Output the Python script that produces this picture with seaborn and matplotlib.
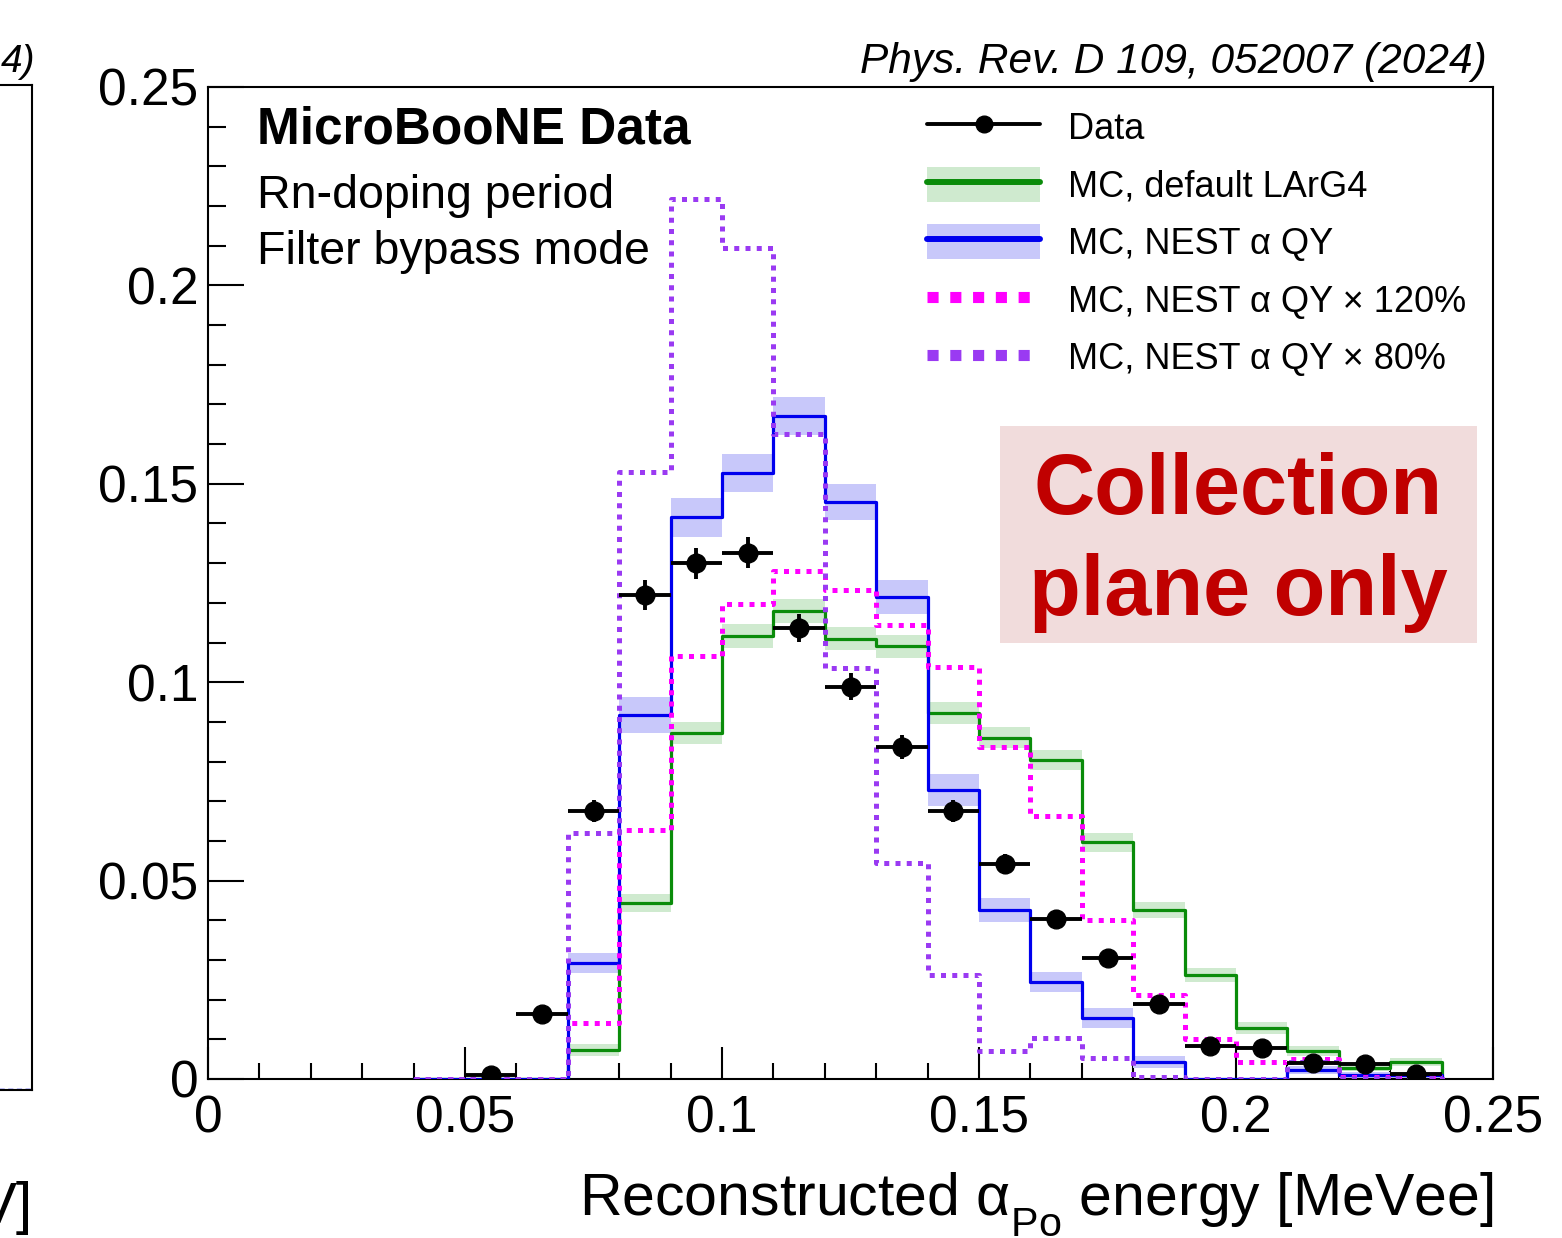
import numpy as np
import matplotlib
matplotlib.use("Agg")
import matplotlib.pyplot as plt
from matplotlib.lines import Line2D
from matplotlib.patches import Patch, Rectangle
from matplotlib.ticker import MultipleLocator
import seaborn as sns

# ---------------------------------------------------------------- data
bin_edges = [0.04, 0.05, 0.06, 0.07, 0.08, 0.09, 0.10, 0.11, 0.12, 0.13, 0.14,
             0.15, 0.16, 0.17, 0.18, 0.19, 0.20, 0.21, 0.22, 0.23, 0.24]
bin_centers = [0.045, 0.055, 0.065, 0.075, 0.085, 0.095, 0.105, 0.115, 0.125, 0.135,
               0.145, 0.155, 0.165, 0.175, 0.185, 0.195, 0.205, 0.215, 0.225, 0.235]

mc_default = [0.0, 0.0, 0.0, 0.0073, 0.0444, 0.0872, 0.1116, 0.1180, 0.1110, 0.1090,
              0.0922, 0.0860, 0.0804, 0.0597, 0.0426, 0.0262, 0.0128, 0.0071, 0.0028, 0.0043]
mc_default_err = [0.0, 0.0, 0.0, 0.0015, 0.0022, 0.0028, 0.0030, 0.0030, 0.0030, 0.0030,
                  0.0027, 0.0026, 0.0025, 0.0024, 0.0021, 0.0018, 0.0015, 0.0012, 0.0009, 0.0009]

mc_nest = [0.0, 0.0, 0.0, 0.0292, 0.0917, 0.1416, 0.1527, 0.1670, 0.1454, 0.1215,
           0.0728, 0.0426, 0.0244, 0.0154, 0.0043, 0.0, 0.0, 0.0023, 0.0010, 0.0010]
mc_nest_err = [0.0, 0.0, 0.0, 0.0026, 0.0045, 0.0049, 0.0048, 0.0048, 0.0045, 0.0042,
               0.0040, 0.0030, 0.0026, 0.0025, 0.0015, 0.0, 0.0, 0.0010, 0.0008, 0.0008]

mc_nest_120 = [0.0, 0.0, 0.0, 0.0140, 0.0627, 0.1066, 0.1197, 0.1280, 0.1232, 0.1144,
               0.1038, 0.0837, 0.0663, 0.0401, 0.0212, 0.0101, 0.0043, 0.0050, 0.0005, 0.0005]
mc_nest_80 = [0.0, 0.0, 0.0, 0.0620, 0.1530, 0.2218, 0.2094, 0.1625, 0.1036, 0.0544,
              0.0262, 0.0070, 0.0103, 0.0053, 0.0005, 0.0, 0.0, 0.0043, 0.0003, 0.0005]

data_x = [0.055, 0.065, 0.075, 0.085, 0.095, 0.105, 0.115, 0.125, 0.135, 0.145,
          0.155, 0.165, 0.175, 0.185, 0.195, 0.205, 0.215, 0.225, 0.235]
data_y = [0.0010, 0.0164, 0.0675, 0.1220, 0.1300, 0.1326, 0.1137, 0.0988, 0.0837, 0.0675,
          0.0542, 0.0403, 0.0305, 0.0189, 0.0083, 0.0078, 0.0040, 0.0038, 0.0013]
data_err = [0.0004, 0.0014, 0.0028, 0.0038, 0.0039, 0.0039, 0.0036, 0.0034, 0.0031, 0.0028,
            0.0025, 0.0022, 0.0019, 0.0015, 0.0010, 0.0010, 0.0007, 0.0007, 0.0004]
bin_half_width = 0.005

x_ticks = [0, 0.05, 0.1, 0.15, 0.2, 0.25]
x_tick_labels = ["0", "0.05", "0.1", "0.15", "0.2", "0.25"]
y_ticks = [0, 0.05, 0.1, 0.15, 0.2, 0.25]
y_tick_labels = ["0", "0.05", "0.1", "0.15", "0.2", "0.25"]

series_labels = ["Data", "MC, default LArG4", "MC, NEST α QY",
                 "MC, NEST α QY × 120%", "MC, NEST α QY × 80%"]

# neighbouring panel, cut by the figure edge
prev_x = [0.0, 1.0]
prev_y = [0.0, 0.0]

# ---------------------------------------------------------------- style
GREEN = "#0a8c0a"
GREEN_BAND = "#cfeacf"
BLUE = "#0000ee"
BLUE_BAND = "#c8c8fa"
MAGENTA = "#ff00ff"
PURPLE = "#9a3af2"
BOX_RED = "#c00000"
BOX_BG = "#f1dcdc"

sns.set_theme(style="ticks")
plt.rcParams.update({
    "font.family": ["Liberation Sans", "DejaVu Sans"],
    "mathtext.fontset": "custom",
    "mathtext.rm": "Liberation Sans",
    "mathtext.it": "Liberation Sans:italic",
    "mathtext.bf": "Liberation Sans:bold",
    "axes.linewidth": 1.5,
    "axes.edgecolor": "black",
    "text.color": "black",
    "axes.labelcolor": "black",
    "xtick.color": "black",
    "ytick.color": "black",
    "legend.labelcolor": "black",
})

# push mathtext subscripts a little lower (ROOT-like placement)
try:
    from matplotlib import _mathtext
    _mathtext.FontConstantsBase.sub1 = 0.7
except Exception:
    pass

W, H = 1562, 1238
fig = plt.figure(figsize=(W / 100, H / 100), dpi=100)
fig.patch.set_facecolor("white")


def fx(px):
    return px / W


def fy(py):
    return 1 - py / H


# ---------------------------------------------------------------- left (cut) panel
ax0 = fig.add_axes([fx(-440), fy(1090), fx(472), (1090 - 85) / H])
ax0.set_xlim(0, 1)
ax0.set_ylim(0, 1)
sns.lineplot(x=prev_x, y=prev_y, ax=ax0, color=BLUE, lw=2.5, ls=(0, (1.5, 1)))
ax0.spines["left"].set_visible(False)
ax0.set_xticks([])
ax0.set_yticks([])
ax0.set_xlabel("")
ax0.set_ylabel("")
fig.text(fx(35), fy(62), "4)", ha="right", va="center", fontsize=28, style="italic")
fig.text(fx(33), fy(1208), "V]", ha="right", va="center", fontsize=42)

# ---------------------------------------------------------------- main panel
ax = fig.add_axes([fx(208), fy(1079), (1493 - 208) / W, (1079 - 87) / H])

centers = np.array(bin_centers)
for vals, errs, col in [(mc_default, mc_default_err, GREEN_BAND),
                        (mc_nest, mc_nest_err, BLUE_BAND)]:
    vals = np.array(vals)
    errs = np.array(errs)
    ax.bar(centers, 2 * errs, bottom=vals - errs, width=0.01, color=col,
           linewidth=0, zorder=1)

dotted = (0, (1, 1.25))
hist_styles = [
    (mc_default, dict(color=GREEN, linewidth=2.3), 3),
    (mc_nest, dict(color=BLUE, linewidth=2.3), 4),
    (mc_nest_120, dict(color=MAGENTA, linewidth=3.6, linestyle=dotted), 5),
    (mc_nest_80, dict(color=PURPLE, linewidth=3.6, linestyle=dotted), 6),
]
for vals, style, z in hist_styles:
    sns.histplot(x=bin_centers, weights=vals, bins=bin_edges, element="step",
                 fill=False, ax=ax, zorder=z, **style)
    # closing edge of the outline down to the baseline
    ax.vlines(bin_edges[-1], 0, vals[-1], zorder=z, **style)

ax.errorbar(data_x, data_y, xerr=bin_half_width, yerr=data_err, fmt="o", color="black",
            ms=13.5, elinewidth=2.8, capsize=0, zorder=10)

ax.set_xlim(0, 0.25)
ax.set_ylim(0, 0.25)
ax.set_ylabel("")
ax.set_xticks(x_ticks, x_tick_labels)
ax.set_yticks(y_ticks, y_tick_labels)
ax.xaxis.set_minor_locator(MultipleLocator(0.01))
ax.yaxis.set_minor_locator(MultipleLocator(0.01))
ax.tick_params(axis="both", which="both", direction="in", width=1.5, colors="black",
               labelsize=37, top=False, right=False)
ax.tick_params(axis="x", which="major", length=23, pad=11)
ax.tick_params(axis="x", which="minor", length=11.5)
ax.tick_params(axis="y", which="major", length=26, pad=7)
ax.tick_params(axis="y", which="minor", length=13)
for s in ax.spines.values():
    s.set_visible(True)
    s.set_linewidth(1.5)
    s.set_color("black")

ax.set_xlabel(r"Reconstructed $\mathrm{\alpha}_{\mathrm{Po}}$ energy [MeVee]",
              fontsize=42.5, loc="right", labelpad=19)

fig.text(fx(1487), fy(62), "Phys. Rev. D 109, 052007 (2024)", ha="right", va="center",
         fontsize=30.5, style="italic")

# in-frame annotations
fig.text(fx(257), fy(143), "MicroBooNE Data", fontsize=37, fontweight="bold",
         ha="left", va="baseline")
fig.text(fx(257), fy(208), "Rn-doping period", fontsize=33.5, ha="left", va="baseline")
fig.text(fx(257), fy(264), "Filter bypass mode", fontsize=33.5, ha="left", va="baseline")

fig.patches.append(Rectangle((fx(1000), fy(643)), 477 / W, 217 / H,
                             transform=fig.transFigure, facecolor=BOX_BG,
                             edgecolor="none", zorder=0))
fig.text(fx(1238.5), fy(514), "Collection", fontsize=61, fontweight="bold",
         color=BOX_RED, ha="center", va="baseline")
fig.text(fx(1238.5), fy(615), "plane only", fontsize=61, fontweight="bold",
         color=BOX_RED, ha="center", va="baseline")

# legend
handles = [
    Line2D([], [], color="black", lw=2.8, marker="o", ms=12),
    (Patch(facecolor=GREEN_BAND, edgecolor="none"), Line2D([], [], color=GREEN, lw=4.3)),
    (Patch(facecolor=BLUE_BAND, edgecolor="none"), Line2D([], [], color=BLUE, lw=4.3)),
    Line2D([], [], color=MAGENTA, lw=8, ls=(0, (1, 1.05))),
    Line2D([], [], color=PURPLE, lw=8, ls=(0, (1, 1.05))),
]
leg_fs = 26
leg_px = leg_fs * 100 / 72
ax.legend(handles, series_labels, loc="upper left",
          bbox_to_anchor=(fx(927), fy(109)), bbox_transform=fig.transFigure,
          frameon=False, fontsize=leg_fs, handlelength=113 / leg_px,
          handleheight=40 / leg_px, handletextpad=28 / leg_px,
          labelspacing=20 / leg_px, borderpad=0, borderaxespad=0, numpoints=1)

fig.savefig("out.png", dpi=100, facecolor="white")
